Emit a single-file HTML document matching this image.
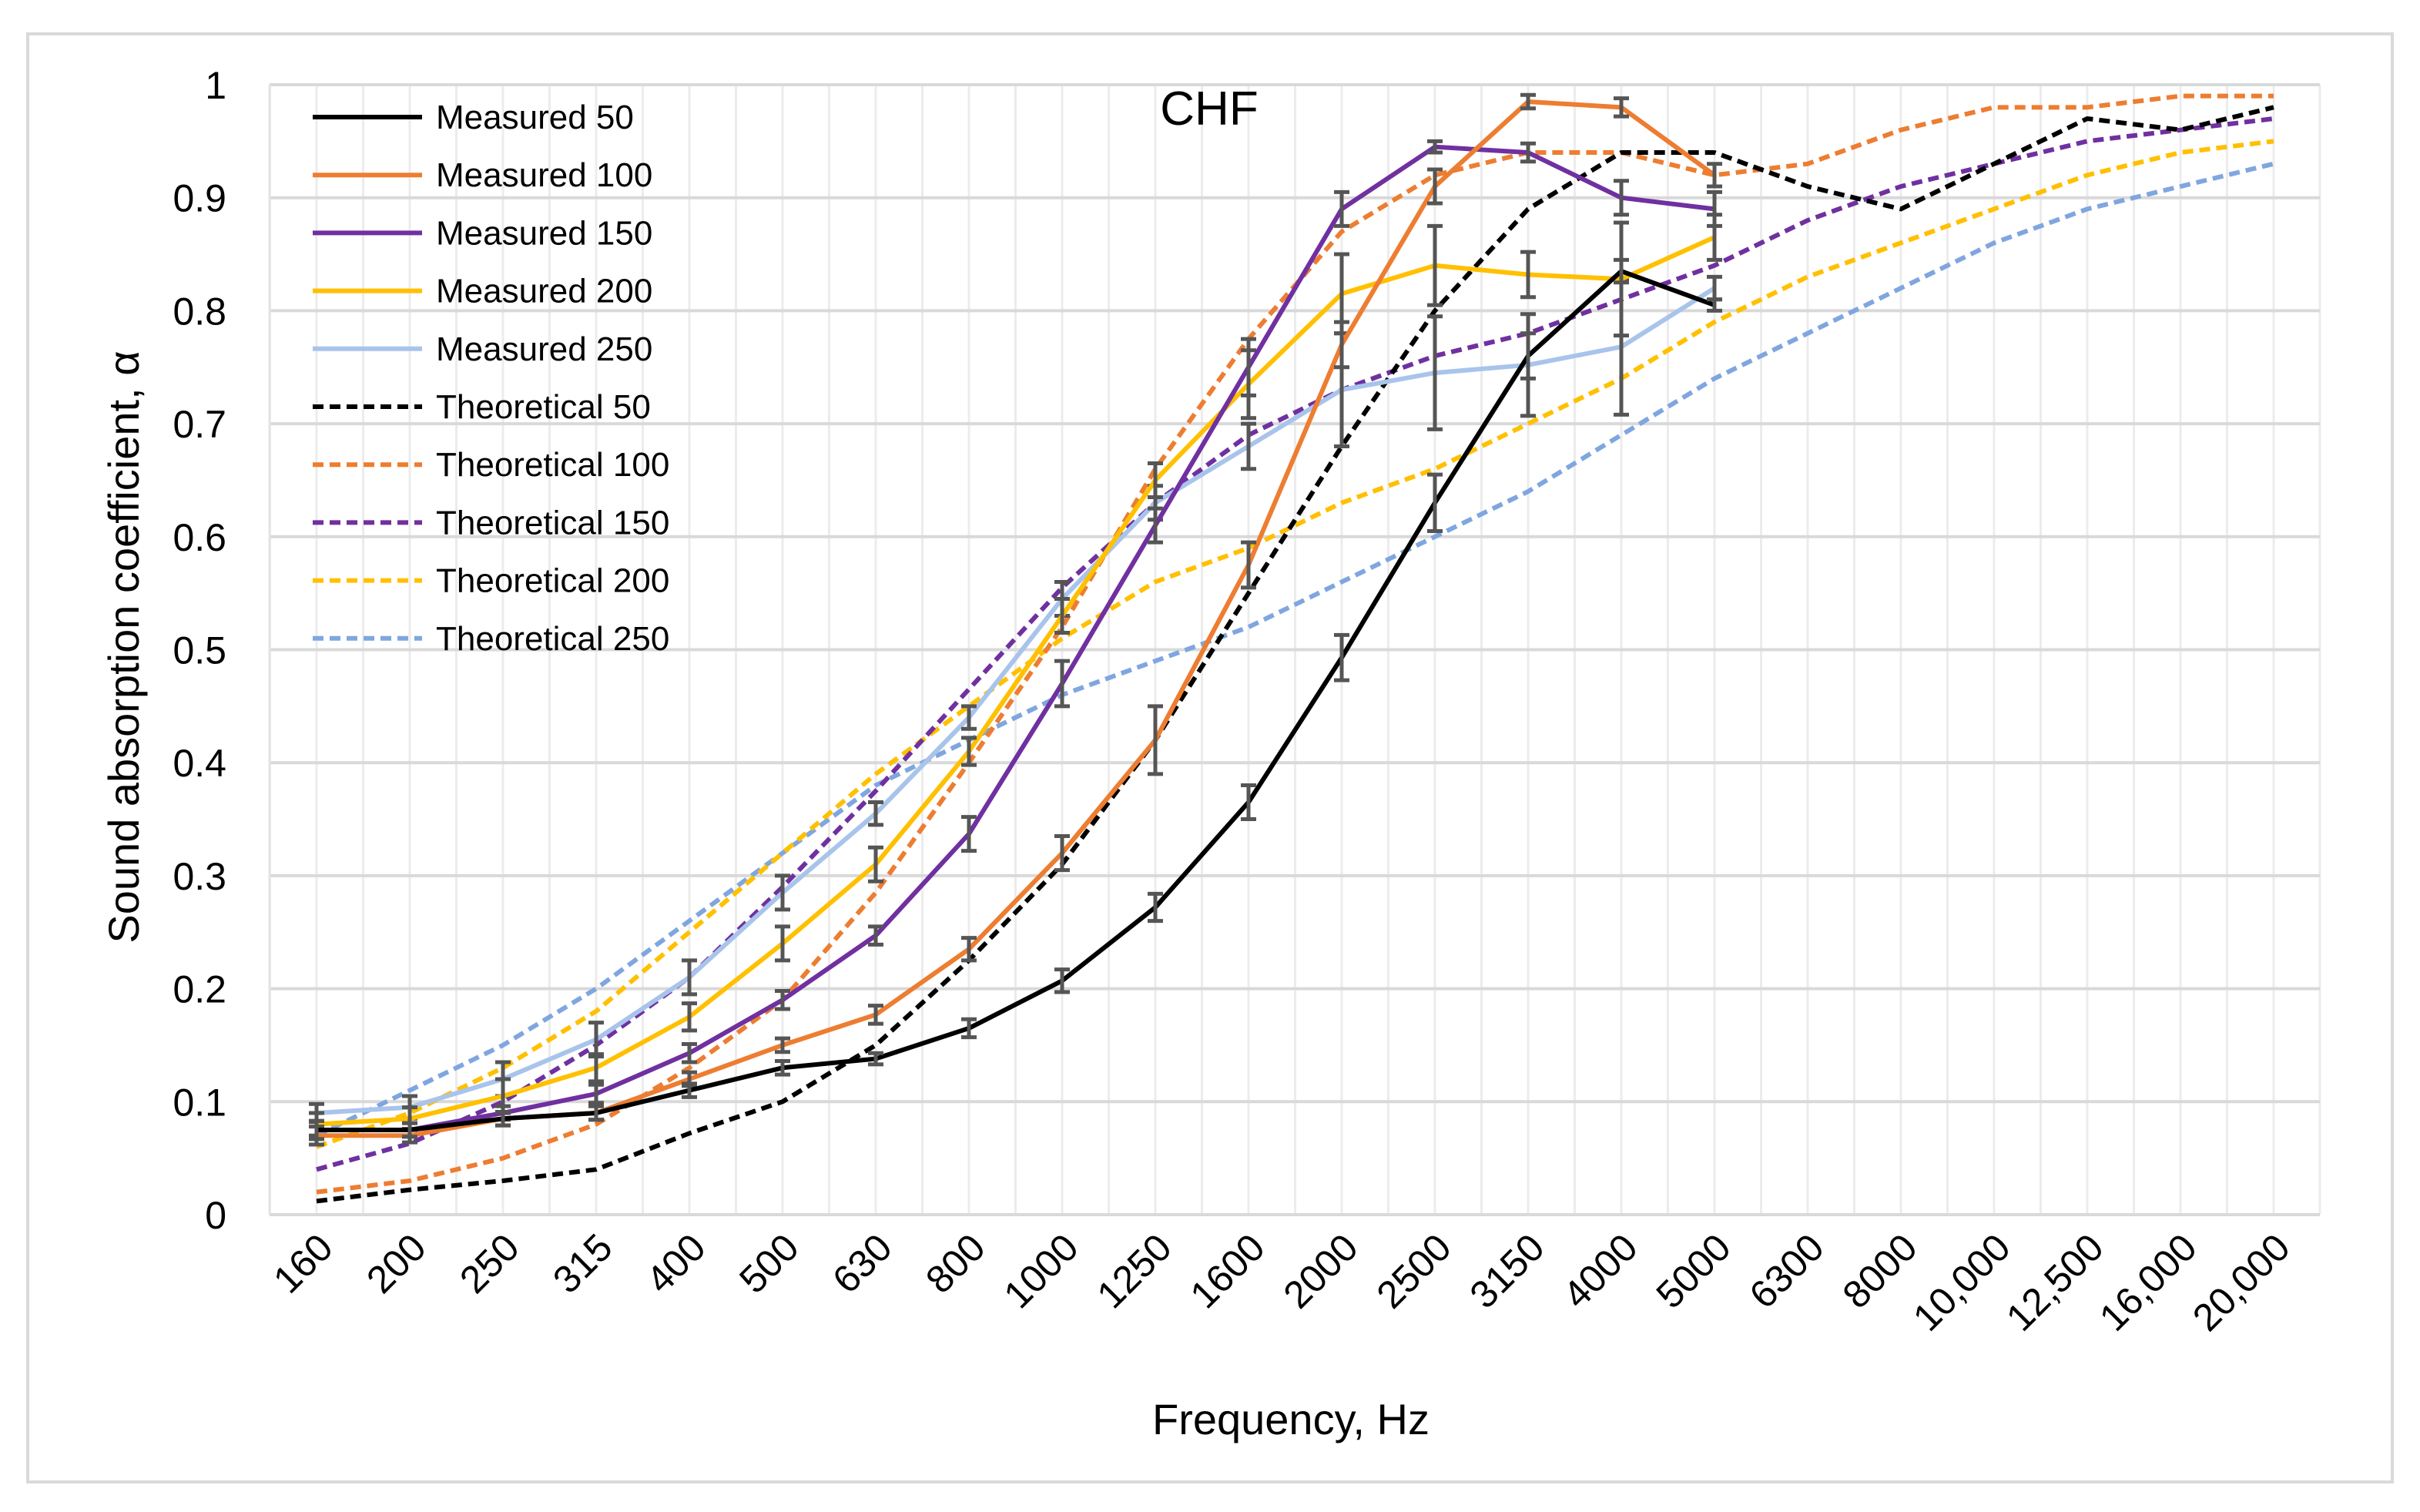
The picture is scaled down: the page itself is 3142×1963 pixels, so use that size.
<!DOCTYPE html>
<html><head><meta charset="utf-8"><style>
html,body{margin:0;padding:0;background:#fff;}
svg{display:block;font-family:"Liberation Sans","DejaVu Sans",sans-serif;}
</style></head><body>
<svg id="chart" width="3142" height="1963" viewBox="0 0 3142 1963">
<rect x="36" y="44" width="3070" height="1880" fill="#fff" stroke="#d9d9d9" stroke-width="4"/>
<g id="grid"></g>
<g id="series"></g>
<g id="axes"></g>
<text x="1570" y="162" font-size="62" text-anchor="middle" fill="#000">CHF</text>
<text x="1676" y="1862" font-size="56" text-anchor="middle" fill="#000">Frequency, Hz</text>
<text transform="translate(180,840) rotate(-90)" font-size="56" text-anchor="middle" fill="#000">Sound absorption coefficient, α</text>
<g id="legend"></g>
</svg>
<script>
const categories=["160","200","250","315","400","500","630","800","1000","1250","1600","2000","2500","3150","4000","5000","6300","8000","10,000","12,500","16,000","20,000"];
const yTicks=[0,0.1,0.2,0.3,0.4,0.5,0.6,0.7,0.8,0.9,1];
const yTickLabels=["0","0.1","0.2","0.3","0.4","0.5","0.6","0.7","0.8","0.9","1"];
const seriesNames=["Measured 50","Measured 100","Measured 150","Measured 200","Measured 250","Theoretical 50","Theoretical 100","Theoretical 150","Theoretical 200","Theoretical 250"];
const m50=[0.075,0.075,0.085,0.09,0.11,0.13,0.138,0.165,0.207,0.272,0.365,0.493,0.63,0.76,0.835,0.805];
const m100=[0.07,0.07,0.085,0.09,0.12,0.15,0.177,0.235,0.32,0.42,0.575,0.77,0.91,0.985,0.98,0.92];
const m150=[0.075,0.075,0.09,0.107,0.143,0.19,0.247,0.337,0.47,0.61,0.75,0.89,0.945,0.94,0.9,0.89];
const m200=[0.08,0.085,0.105,0.13,0.175,0.24,0.31,0.41,0.53,0.65,0.735,0.815,0.84,0.832,0.828,0.865];
const m250=[0.09,0.095,0.12,0.155,0.21,0.285,0.355,0.44,0.545,0.63,0.68,0.73,0.745,0.752,0.768,0.82];
const e50=[0.008,0.006,0.006,0.006,0.006,0.006,0.005,0.008,0.01,0.012,0.015,0.02,0.025,0.02,0.01,0.005];
const e100=[0.008,0.006,0.006,0.006,0.006,0.006,0.008,0.01,0.015,0.03,0.02,0.02,0.015,0.006,0.008,0.01];
const e150=[0.008,0.006,0.006,0.008,0.008,0.008,0.008,0.015,0.02,0.015,0.025,0.015,0.005,0.008,0.015,0.015];
const e200=[0.01,0.01,0.015,0.012,0.012,0.015,0.015,0.012,0.015,0.015,0.03,0.035,0.035,0.02,0.05,0.02];
const e250=[0.008,0.01,0.015,0.015,0.015,0.015,0.01,0.01,0.015,0.015,0.02,0.05,0.05,0.045,0.06,0.01];
const t50=[0.012,0.022,0.03,0.04,0.072,0.1,0.15,0.225,0.31,0.42,0.55,0.68,0.8,0.89,0.94,0.94,0.91,0.89,0.93,0.97,0.96,0.98];
const t100=[0.02,0.03,0.05,0.08,0.13,0.19,0.285,0.4,0.52,0.66,0.775,0.87,0.92,0.94,0.94,0.92,0.93,0.96,0.98,0.98,0.99,0.99];
const t150=[0.04,0.063,0.1,0.15,0.21,0.29,0.375,0.465,0.555,0.63,0.69,0.73,0.76,0.78,0.81,0.84,0.88,0.91,0.93,0.95,0.96,0.97];
const t200=[0.06,0.09,0.13,0.18,0.25,0.32,0.39,0.45,0.51,0.56,0.59,0.63,0.66,0.7,0.74,0.79,0.83,0.86,0.89,0.92,0.94,0.95];
const t250=[0.07,0.11,0.15,0.2,0.26,0.32,0.38,0.42,0.46,0.49,0.52,0.56,0.6,0.64,0.69,0.74,0.78,0.82,0.86,0.89,0.91,0.93];

const NS="http://www.w3.org/2000/svg";
const PL=350,PR=3012,PT=110,PB=1577,X0=411,XN=2952;
function xs(i){return X0+i*(XN-X0)/(categories.length-1);}
function ys(v){return PB-v*(PB-PT);}
function mk(tag,parent,attrs){const e=document.createElementNS(NS,tag);for(const k in attrs)e.setAttribute(k,attrs[k]);parent.appendChild(e);return e;}
const grid=document.getElementById('grid'),axes=document.getElementById('axes'),ser=document.getElementById('series'),leg=document.getElementById('legend');
const half=(XN-X0)/(categories.length-1)/2;
for(let i=0;i<categories.length;i++){
  for(const dx of [-half,0]){
    const l=mk('line',grid,{x1:xs(i)+dx,x2:xs(i)+dx,y1:PT,y2:PB,stroke:'#ececec','stroke-width':3});
    
    
  }
}
const lastL=mk('line',grid,{x1:PR,x2:PR,y1:PT,y2:PB,stroke:'#ececec','stroke-width':3});


yTicks.forEach((v,i)=>{
  const l=mk('line',grid,{x1:PL,x2:PR,y1:ys(v),y2:ys(v),stroke:'#d9d9d9','stroke-width':4});
  
  
  const t=mk('text',axes,{x:PL-56,y:ys(v)+18,'font-size':50,'text-anchor':'end',fill:'#000'});
  t.textContent=yTickLabels[i];
  
  
});
mk('line',axes,{x1:PL,x2:PL,y1:PT,y2:PB,stroke:'#e4e4e4','stroke-width':3});
categories.forEach((c,i)=>{
  const t=mk('text',axes,{transform:`translate(${xs(i)+24},${PB+46}) rotate(-45)`,'font-size':50,'text-anchor':'end',fill:'#000'});
  t.textContent=c;
  
  
});
const defs=[
 [t250,'#7fa6df',true,null],[t200,'#ffc000',true,null],[t150,'#7030a0',true,null],[t100,'#ed7d31',true,null],[t50,'#000',true,null],
 [m250,'#a9c4eb',false,e250],[m200,'#ffc000',false,e200],[m150,'#7030a0',false,e150],[m100,'#ed7d31',false,e100],[m50,'#000',false,e50]
];
const names=[seriesNames[9],seriesNames[8],seriesNames[7],seriesNames[6],seriesNames[5],seriesNames[4],seriesNames[3],seriesNames[2],seriesNames[1],seriesNames[0]];
defs.forEach((d,k)=>{
  const [vals,col,dash,err]=d;
  const pts=vals.map((v,i)=>xs(i)+','+ys(v)).join(' ');
  const p=mk('polyline',ser,{points:pts,fill:'none',stroke:col,'stroke-width':6,'stroke-dasharray':dash?'14 8':'none','stroke-linejoin':'round'});
  
  
  if(err){
    vals.forEach((v,i)=>{
      const g=mk('path',ser,{d:`M${xs(i)},${ys(v+err[i])}V${ys(v-err[i])}M${xs(i)-10},${ys(v+err[i])}H${xs(i)+10}M${xs(i)-10},${ys(v-err[i])}H${xs(i)+10}`,stroke:'#555','stroke-width':5,fill:'none'});
      
      
    });
  }
});
const legCols=['#000','#ed7d31','#7030a0','#ffc000','#a9c4eb','#000','#ed7d31','#7030a0','#ffc000','#7fa6df'];
seriesNames.forEach((n,i)=>{
  const y=152+i*75.2;
  const l=mk('line',leg,{x1:406,x2:548,y1:y,y2:y,stroke:legCols[i],'stroke-width':6,'stroke-dasharray':i>=5?'14 8':'none'});
  
  
  const t=mk('text',leg,{x:566,y:y+15,'font-size':44,fill:'#000'});
  t.textContent=n;
  
  
});
</script>
</body></html>
